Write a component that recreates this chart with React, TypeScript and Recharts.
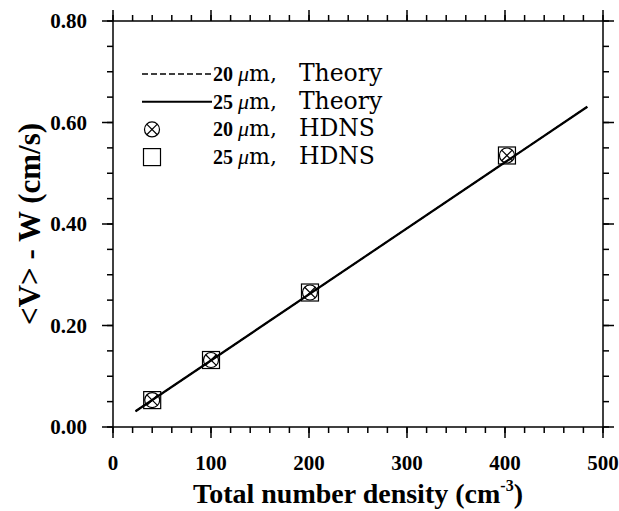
import {
  ComposedChart, Line, Scatter, XAxis, YAxis, Label,
} from 'recharts'

// Theory lines (read at their visible end points)
const theory20 = [
  { x: 23, y: 0.031 },
  { x: 484, y: 0.631 },
]
const theory25 = [
  { x: 23, y: 0.031 },
  { x: 484, y: 0.631 },
]

// HDNS results
const hdns20 = [
  { x: 40, y: 0.053 },
  { x: 100, y: 0.132 },
  { x: 201, y: 0.265 },
  { x: 402, y: 0.535 },
]
const hdns25 = [
  { x: 40, y: 0.053 },
  { x: 100, y: 0.132 },
  { x: 201, y: 0.265 },
  { x: 402, y: 0.535 },
]

// corners of the frame, only so the mirrored axes have something bound to them
const frame = [
  { x: 0, y: 0 },
  { x: 500, y: 0.8 },
]

const xTicks = [0, 20, 40, 60, 80, 100, 120, 140, 160, 180, 200, 220, 240, 260, 280, 300, 320, 340, 360, 380, 400, 420, 440, 460, 480, 500]
const yTicks = [0, 0.05, 0.1, 0.15, 0.2, 0.25, 0.3, 0.35, 0.4, 0.45, 0.5, 0.55, 0.6, 0.65, 0.7, 0.75, 0.8]
const xMajor = [0, 100, 200, 300, 400, 500]
const yMajor = [0, 0.2, 0.4, 0.6, 0.8]

const legendItems = [
  { size: '20', name: 'Theory', kind: 'dash' },
  { size: '25', name: 'Theory', kind: 'solid' },
  { size: '20', name: 'HDNS', kind: 'circle' },
  { size: '25', name: 'HDNS', kind: 'square' },
]

const BOLD = '"Liberation Serif", "Times New Roman", serif'
const PLAIN = '"DejaVu Serif", serif'
const MINOR = 6
const MAJOR = 11
const GAP = 2 // recharts' default tickMargin
const OFF = MINOR + GAP // tick props arrive this far from the axis line

const axisLine = { stroke: '#000', strokeWidth: 1.5 }
const tickLine = { stroke: '#000', strokeWidth: 1.5 }

const isMajorX = (v: number) => xMajor.includes(v)
const isMajorY = (v: number) => yMajor.some((m) => Math.abs(m - v) < 1e-6)

function XTick(props: any) {
  const { payload, side } = props
  const x = Number(props.x)
  const y = Number(props.y)
  const major = isMajorX(Number(payload.value))
  const top = side === 'top'
  const axisY = top ? y + OFF : y - OFF
  return (
    <g>
      {major && (
        <path d={`M${x},${axisY}L${x},${top ? axisY - MAJOR : axisY + MAJOR}`} stroke="#000" strokeWidth={1.5} fill="none" />
      )}
      {!top && major && (
        <text x={x} y={axisY + 43} textAnchor="middle" fontFamily={BOLD} fontWeight="bold" fontSize={21} fill="#000">
          {payload.value}
        </text>
      )}
    </g>
  )
}

function YTick(props: any) {
  const { payload, side } = props
  const x = Number(props.x)
  const y = Number(props.y)
  const major = isMajorY(Number(payload.value))
  const right = side === 'right'
  const axisX = right ? x - OFF : x + OFF
  return (
    <g>
      {major && (
        <path d={`M${axisX},${y}L${right ? axisX + MAJOR : axisX - MAJOR},${y}`} stroke="#000" strokeWidth={1.5} fill="none" />
      )}
      {!right && major && (
        <text x={axisX - 26} y={y + 7} textAnchor="end" fontFamily={BOLD} fontWeight="bold" fontSize={21} fill="#000">
          {Number(payload.value).toFixed(2)}
        </text>
      )}
    </g>
  )
}

function CircleX(props: any) {
  const { cx, cy } = props
  const r = 7.5
  const d = r * 0.7071
  return (
    <g fill="none" stroke="#000" strokeWidth={1.2}>
      <circle cx={cx} cy={cy} r={r} />
      <line x1={cx - d} y1={cy - d} x2={cx + d} y2={cy + d} />
      <line x1={cx - d} y1={cy + d} x2={cx + d} y2={cy - d} />
    </g>
  )
}

function Square(props: any) {
  const { cx, cy } = props
  const s = 17
  return <rect x={cx - s / 2} y={cy - s / 2} width={s} height={s} fill="none" stroke="#000" strokeWidth={1.2} />
}

function LegendBox() {
  return (
    <svg width={300} height={110} style={{ position: 'absolute', left: 132, top: 60 }}>
      {legendItems.map((it, i) => {
        const y = 14 + i * 27.7
        return (
          <g key={i}>
            {it.kind === 'dash' && <line x1={10} x2={80} y1={y} y2={y} stroke="#000" strokeWidth={1.5} strokeDasharray="6 3" />}
            {it.kind === 'solid' && <line x1={10} x2={80} y1={y} y2={y} stroke="#000" strokeWidth={2} />}
            {it.kind === 'circle' && <CircleX cx={20} cy={y} />}
            {it.kind === 'square' && <Square cx={20} cy={y} />}
            <text x={81} y={y + 7} fill="#000">
              <tspan fontFamily={BOLD} fontWeight="bold" fontSize={20}>{it.size}</tspan>
              <tspan dx={5} fontFamily={BOLD} fontStyle="italic" fontSize={22}>μ</tspan>
              <tspan fontFamily={PLAIN} fontSize={22}>m,</tspan>
              <tspan dx={22} fontFamily={PLAIN} fontSize={23.5}>{it.name}</tspan>
            </text>
          </g>
        )
      })}
    </svg>
  )
}

function XTitle(props: any) {
  const { viewBox } = props
  const cx = viewBox.x + viewBox.width / 2
  return (
    <text x={cx} y={503} textAnchor="middle" fontFamily={BOLD} fontWeight="bold" fontSize={28} fill="#000">
      Total number density (cm
      <tspan fontSize={16} dy={-12}>-3</tspan>
      <tspan dy={12}>)</tspan>
    </text>
  )
}

function YTitle(props: any) {
  const { viewBox } = props
  const cy = viewBox.y + viewBox.height / 2
  return (
    <text
      x={0}
      y={0}
      transform={`translate(40, ${cy}) rotate(-90)`}
      textAnchor="middle"
      fontFamily={BOLD}
      fontWeight="bold"
      fontSize={31}
      fill="#000"
    >
      {'<V> - W (cm/s)'}
    </text>
  )
}

export default function App() {
  return (
    <div style={{ position: 'absolute', left: 0, top: 0, width: 619, height: 511, background: '#fff' }}>
      <ComposedChart width={619} height={511} margin={{ top: 20, right: 15, left: 0, bottom: 0 }}>
        <XAxis
          dataKey="x"
          type="number"
          domain={[0, 500]}
          ticks={xTicks}
          interval={0}
          height={84}
          tickSize={MINOR}
          tickLine={tickLine}
          axisLine={axisLine}
          tick={<XTick side="bottom" />}
        >
          <Label content={<XTitle />} />
        </XAxis>
        <XAxis
          xAxisId="top"
          orientation="top"
          dataKey="x"
          type="number"
          domain={[0, 500]}
          ticks={xTicks}
          interval={0}
          height={1}
          tickSize={MINOR}
          tickLine={tickLine}
          axisLine={axisLine}
          tick={<XTick side="top" />}
        />
        <YAxis
          dataKey="y"
          type="number"
          domain={[0, 0.8]}
          ticks={yTicks}
          interval={0}
          width={113}
          tickSize={MINOR}
          tickLine={tickLine}
          axisLine={axisLine}
          tick={<YTick side="left" />}
        >
          <Label content={<YTitle />} />
        </YAxis>
        <YAxis
          yAxisId="right"
          orientation="right"
          dataKey="y"
          type="number"
          domain={[0, 0.8]}
          ticks={yTicks}
          interval={0}
          width={1}
          tickSize={MINOR}
          tickLine={tickLine}
          axisLine={axisLine}
          tick={<YTick side="right" />}
        />
        <Line data={frame} dataKey="y" xAxisId="top" yAxisId="right" stroke="none" dot={false} isAnimationActive={false} />
        <Line data={theory20} dataKey="y" type="linear" stroke="#000" strokeWidth={1.5} strokeDasharray="6 3" dot={false} isAnimationActive={false} />
        <Line data={theory25} dataKey="y" type="linear" stroke="#000" strokeWidth={2.2} dot={false} isAnimationActive={false} />
        <Scatter data={hdns25} dataKey="y" shape={<Square />} isAnimationActive={false} />
        <Scatter data={hdns20} dataKey="y" shape={<CircleX />} isAnimationActive={false} />
      </ComposedChart>
      <LegendBox />
    </div>
  )
}
